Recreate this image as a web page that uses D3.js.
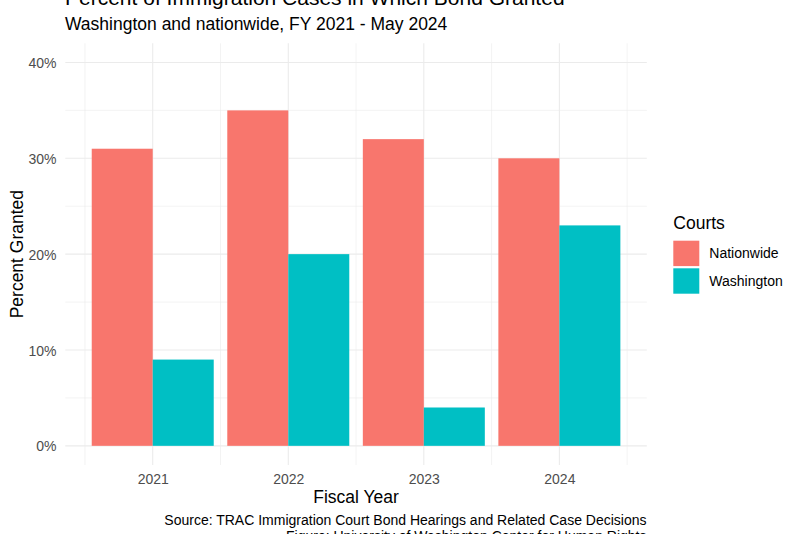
<!DOCTYPE html>
<html>
<head>
<meta charset="utf-8">
<script src="https://cdn.jsdelivr.net/npm/d3@7"></script>
<style>
  body { margin: 0; background: #fff; }
  svg text { font-family: "Liberation Sans", Arial, Helvetica, sans-serif; }
</style>
</head>
<body>
<div id="graph"></div>
<script>
const width = 800, height = 534;

// data
const years = [2021, 2022, 2023, 2024];
const courts = ["Nationwide", "Washington"];
const nationwide = [31, 35, 32, 30];
const washington = [9, 20, 4, 23];
const yTicks = [0, 10, 20, 30, 40];
const colors = ["#F8766D", "#00BFC4"];

const panel = {left: 65.3, right: 646.8, top: 43.3, bottom: 465};

let svg = d3.select("#graph").
append("svg").
attr("width", width).
attr("height", height);

// continuous x, bars 0.9 wide, 5% expansion like ggplot
const xMin = d3.min(years) - 0.45, xMax = d3.max(years) + 0.45;
const xPad = (xMax - xMin) * 0.05;
const xScale = d3.scaleLinear().
domain([xMin - xPad, xMax + xPad]).
range([panel.left, panel.right]);

const yScale = d3.scaleLinear().
domain([-2, 42]).
range([panel.bottom, panel.top]);

const grid = svg.append("g");

// minor grid
const yMinor = [5, 15, 25, 35];
grid.selectAll(".ymin").data(yMinor).enter().append("line").
attr("x1", panel.left).attr("x2", panel.right).
attr("y1", d => yScale(d)).attr("y2", d => yScale(d)).
attr("stroke", "#EBEBEB").attr("stroke-width", 0.6);
const xMinor = years.map(y => y - 0.5).concat([d3.max(years) + 0.5]);
grid.selectAll(".xmin").data(xMinor).enter().append("line").
attr("x1", d => xScale(d)).attr("x2", d => xScale(d)).
attr("y1", panel.top).attr("y2", panel.bottom).
attr("stroke", "#EBEBEB").attr("stroke-width", 0.6);

// major grid
grid.selectAll(".ymaj").data(yTicks).enter().append("line").
attr("x1", panel.left).attr("x2", panel.right).
attr("y1", d => yScale(d)).attr("y2", d => yScale(d)).
attr("stroke", "#EBEBEB").attr("stroke-width", 1.1);
grid.selectAll(".xmaj").data(years).enter().append("line").
attr("x1", d => xScale(d)).attr("x2", d => xScale(d)).
attr("y1", panel.top).attr("y2", panel.bottom).
attr("stroke", "#EBEBEB").attr("stroke-width", 1.1);

// bars
const series = [nationwide, washington];
series.forEach((vals, s) => {
  svg.append("g").selectAll("rect").
  data(vals).
  enter().
  append("rect").
  attr("x", (d, i) => xScale(years[i] - 0.45 + s * 0.45)).
  attr("width", (d, i) => xScale(years[i] + s * 0.45) - xScale(years[i] - 0.45 + s * 0.45)).
  attr("y", d => yScale(d)).
  attr("height", d => yScale(0) - yScale(d)).
  attr("fill", colors[s]);
});

// axes (ggplot minimal: no lines, just labels)
const xAxis = d3.axisBottom(xScale).tickValues(years).tickFormat(d3.format("d")).tickSize(0).tickPadding(0);
svg.append("g").
attr("transform", "translate(0," + panel.bottom + ")").
call(xAxis).
call(g => g.select(".domain").remove()).
call(g => g.selectAll("text").attr("dy", null).attr("y", 19).
  attr("fill", "#4D4D4D").style("font-size", "14px").style("font-family", "Liberation Sans, Arial, sans-serif"));

const yAxis = d3.axisLeft(yScale).tickValues(yTicks).tickFormat(d => d + "%").tickSize(0).tickPadding(0);
svg.append("g").
attr("transform", "translate(" + 56.5 + ",0)").
call(yAxis).
call(g => g.select(".domain").remove()).
call(g => g.selectAll("text").attr("dy", "0.36em").
  attr("fill", "#4D4D4D").style("font-size", "14px").style("font-family", "Liberation Sans, Arial, sans-serif"));

// titles
svg.append("text").attr("x", 65).attr("y", 5).
style("font-size", "21px").attr("fill", "#000").
text("Percent of Immigration Cases in Which Bond Granted");
svg.append("text").attr("x", 65).attr("y", 30).
style("font-size", "17.5px").attr("fill", "#000").
text("Washington and nationwide, FY 2021 - May 2024");

svg.append("text").attr("x", (panel.left + panel.right) / 2).attr("y", 503).
attr("text-anchor", "middle").style("font-size", "17.5px").
text("Fiscal Year");
svg.append("text").
attr("transform", "translate(23.3," + (panel.top + panel.bottom) / 2 + ") rotate(-90)").
attr("text-anchor", "middle").style("font-size", "17.5px").
text("Percent Granted");

// caption
svg.append("text").attr("x", 646.5).attr("y", 524.5).
attr("text-anchor", "end").style("font-size", "14px").
text("Source: TRAC Immigration Court Bond Hearings and Related Case Decisions");
svg.append("text").attr("x", 646.5).attr("y", 541).
attr("text-anchor", "end").style("font-size", "14px").
text("Figure: University of Washington Center for Human Rights");

// legend
const legend = svg.append("g").attr("transform", "translate(673.3,0)");
legend.append("text").attr("x", 0).attr("y", 228.5).
style("font-size", "17.5px").text("Courts");
courts.forEach((c, i) => {
  legend.append("rect").attr("x", 0).attr("y", 240.7 + i * 27.6).
  attr("width", 26).attr("height", 25.4).attr("fill", colors[i]);
  legend.append("text").attr("x", 36).attr("y", 253.4 + i * 27.6).
  attr("dy", "0.36em").style("font-size", "14px").text(c);
});
</script>
</body>
</html>
